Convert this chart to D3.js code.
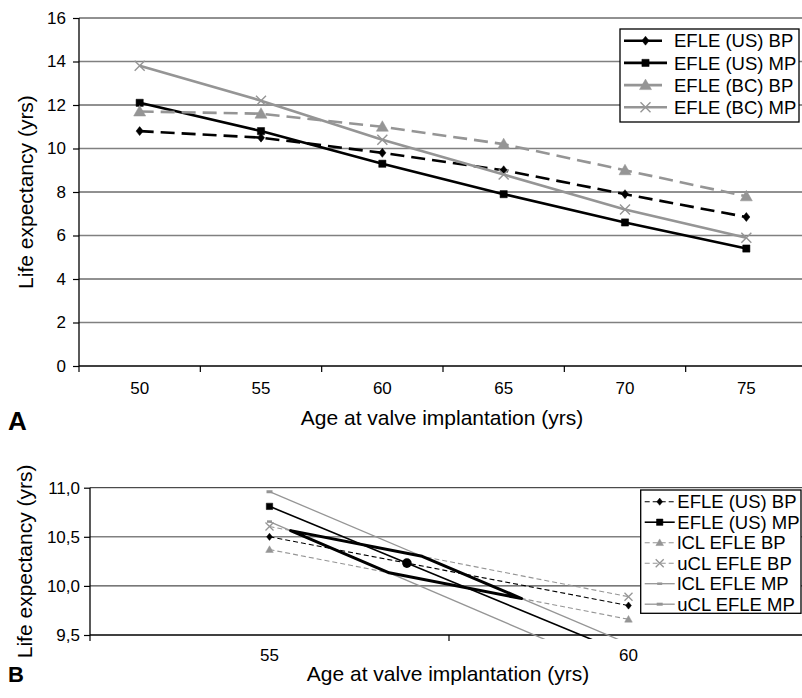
<!DOCTYPE html>
<html>
<head>
<meta charset="utf-8">
<script src="https://cdn.jsdelivr.net/npm/d3@7"></script>
<style>
  body { margin: 0; background: #fff; }
  svg { display: block; font-family: "Liberation Sans", Arial, sans-serif; }
</style>
</head>
<body>
<svg id="chart" width="802" height="698"></svg>
<script>
// panel A data
const agesA = [50, 55, 60, 65, 70, 75]
const usBP_A = [10.8, 10.5, 9.8, 9.0, 7.9, 6.85]
const usMP_A = [12.1, 10.8, 9.3, 7.9, 6.6, 5.4]
const bcBP_A = [11.7, 11.6, 11.0, 10.2, 9.0, 7.8]
const bcMP_A = [13.8, 12.2, 10.4, 8.8, 7.2, 5.9]
const yTicksA = [0, 2, 4, 6, 8, 10, 12, 14, 16]

// panel B data
const agesB = [55, 60]
const usBP_B = [10.50, 9.80]
const usMP_B = [10.81, 9.30]
const lclBP_B = [10.37, 9.66]
const uclBP_B = [10.605, 9.89]
const lclMP_B = [10.655, 9.09]
const uclMP_B = [10.96, 9.41]
const yTicksB = [9.5, 10.0, 10.5, 11.0]

const GRAY = '#959595'
const svg = d3.select('#chart')

// marker shapes (local coords)
const markerPath = {
    diamond: s => `M0,${-s}L${s * 0.8},0L0,${s}L${-s * 0.8},0Z`,
    square: s => `M${-s},${-s}H${s}V${s}H${-s}Z`,
    triangle: s => `M0,${-s}L${s},${s * 0.75}L${-s},${s * 0.75}Z`,
    times: s => `M${-s},${-s}L${s},${s}M${-s},${s}L${s},${-s}`,
    dash: s => `M${-s},0L${s},0`
}

function drawMarker(g, m, x, y) {
    const filled = m.shape !== 'times' && m.shape !== 'dash'
    g.append('path')
        .attr('d', markerPath[m.shape](m.size))
        .attr('transform', `translate(${x},${y})`)
        .attr('fill', filled ? m.color : 'none')
        .attr('stroke', m.color)
        .attr('stroke-width', filled ? 0.5 : m.mw)
}

function drawPanel(p) {
    const g = svg.append('g')
    const x = d3.scaleBand().domain(p.ages).range([p.left, p.right])
    const xc = d => x(d) + x.bandwidth() / 2
    const y = d3.scaleLinear().domain(p.yDomain).range([p.bottom, p.top])

    // gridlines
    g.selectAll('.grid')
        .data(p.yTicks.slice(1))
        .enter()
        .append('line')
        .attr('x1', p.left)
        .attr('x2', p.right)
        .attr('y1', d => y(d))
        .attr('y2', d => y(d))
        .attr('stroke', (d, i) => (p.yTicks.length - 1 - i) % 2 ? '#222' : '#808080')
        .attr('stroke-width', (d, i) => (p.yTicks.length - 1 - i) % 2 ? 1 : 1.6)

    // y axis
    const yAxis = g.append('g')
        .attr('transform', `translate(${p.left},0)`)
        .call(d3.axisLeft(y).tickValues(p.yTicks).tickSize(6).tickPadding(p.yPad).tickFormat(p.yFormat))
    yAxis.select('.domain').attr('d', `M0,${p.top}V${p.bottom}`).attr('stroke', '#000').attr('stroke-width', 1.3)
    yAxis.selectAll('.tick line').attr('stroke', '#000').attr('stroke-width', 1.2)
    yAxis.selectAll('text').attr('font-size', 17).attr('fill', '#000').style('font-family', 'inherit')

    // x axis: labels at band centres, tick marks at band edges
    const xAxis = g.append('g')
        .attr('transform', `translate(0,${p.bottom})`)
        .call(d3.axisBottom(x).tickSize(0).tickPadding(p.xPad))
    xAxis.select('.domain').attr('d', `M${p.left},0H${p.right}`).attr('stroke', '#000').attr('stroke-width', 1.5)
    xAxis.selectAll('text').attr('font-size', 17).attr('fill', '#000').style('font-family', 'inherit')
    xAxis.selectAll('.edge')
        .data(p.ages.map(d => x(d)).concat([p.right]))
        .enter()
        .append('line')
        .attr('x1', d => d)
        .attr('x2', d => d)
        .attr('y1', 0)
        .attr('y2', 6)
        .attr('stroke', '#000')
        .attr('stroke-width', 1.2)

    // titles
    g.append('text')
        .attr('x', (p.left + p.right) / 2 - 1)
        .attr('y', p.xTitleY)
        .attr('text-anchor', 'middle')
        .attr('font-size', 21)
        .text('Age at valve implantation (yrs)')
    g.append('text')
        .attr('transform', `translate(${p.yTitleX},${(p.top + p.bottom) / 2}) rotate(-90)`)
        .attr('text-anchor', 'middle')
        .attr('font-size', 21)
        .text('Life expectancy (yrs)')
    g.append('text')
        .attr('x', 8)
        .attr('y', p.letterY)
        .attr('font-size', p.letterSize)
        .attr('font-weight', 'bold')
        .text(p.letter)

    // series
    const plot = g.append('g')
    if (p.clip) {
        svg.append('clipPath').attr('id', p.clip)
            .append('rect')
            .attr('x', p.left).attr('y', p.top - 10)
            .attr('width', p.right - p.left).attr('height', p.bottom - p.top + 14)
        plot.attr('clip-path', `url(#${p.clip})`)
    }
    const line = d3.line().x((d, i) => xc(p.ages[i])).y(d => y(d))
    p.series.forEach(s => {
        plot.append('path')
            .attr('d', line(s.values))
            .attr('fill', 'none')
            .attr('stroke', s.color)
            .attr('stroke-width', s.width)
            .attr('stroke-dasharray', s.dash || null)
        s.values.forEach((v, i) => drawMarker(plot, s, xc(p.ages[i]), y(v)))
    })

    if (p.extra) p.extra(plot, x, y)

    // legend
    const lg = g.append('g')
    lg.append('rect')
        .attr('x', p.legend.x)
        .attr('y', p.legend.y)
        .attr('width', p.legend.w)
        .attr('height', p.legend.h)
        .attr('fill', '#fff')
        .attr('stroke', '#000')
        .attr('stroke-width', 1.3)
    p.series.forEach((s, i) => {
        const cy = p.legend.y + p.legend.first + i * p.legend.step
        lg.append('line')
            .attr('x1', p.legend.x + 4)
            .attr('x2', p.legend.x + 4 + p.legend.sym)
            .attr('y1', cy)
            .attr('y2', cy)
            .attr('stroke', s.color)
            .attr('stroke-width', s.width)
            .attr('stroke-dasharray', s.legendDash || s.dash || null)
        drawMarker(lg, s, p.legend.x + 4 + p.legend.sym / 2, cy)
        lg.append('text')
            .attr('x', p.legend.x + p.legend.textX)
            .attr('y', cy)
            .attr('dy', '0.36em')
            .attr('font-size', 18.5)
            .text(s.name)
    })
}

drawPanel({
    ages: agesA,
    left: 79, right: 807, top: 18, bottom: 366,
    yDomain: [0, 16], yTicks: yTicksA, yFormat: d3.format('d'), yPad: 7, xPad: 16,
    xTitleY: 425, yTitleX: 33, letter: 'A', letterY: 430, letterSize: 26,
    series: [
        { name: 'EFLE (US) BP', values: usBP_A, color: '#000', width: 2.6, dash: '14,7', legendDash: '20,4,14', shape: 'diamond', size: 4.5 },
        { name: 'EFLE (US) MP', values: usMP_A, color: '#000', width: 2.6, shape: 'square', size: 3.6 },
        { name: 'EFLE (BC) BP', values: bcBP_A, color: GRAY, width: 2.6, dash: '14,7', legendDash: '20,4,14', shape: 'triangle', size: 6 },
        { name: 'EFLE (BC) MP', values: bcMP_A, color: GRAY, width: 2.6, shape: 'times', size: 5, mw: 1.4 }
    ],
    legend: { x: 620, y: 29, w: 179, h: 93, first: 11.7, step: 22.2, sym: 43, textX: 54 }
})

// intersection of two straight series between 55 and 60
function meet(a, b) {
    const da = a[1] - a[0]
    const db = b[1] - b[0]
    const u = (b[0] - a[0]) / (da - db)
    return [agesB[0] + (agesB[1] - agesB[0]) * u, a[0] + da * u]
}

drawPanel({
    ages: agesB,
    left: 90, right: 808, top: 487.7, bottom: 635,
    yDomain: [9.5, 11], yTicks: yTicksB, yFormat: d => d3.format('.1f')(d).replace('.', ','), yPad: 4, xPad: 14,
    xTitleY: 681, yTitleX: 31.5, letter: 'B', letterY: 682, letterSize: 22,
    clip: 'clipB',
    series: [
        { name: 'EFLE (US) BP', values: usBP_B, color: '#000', width: 1.1, dash: '5,3', shape: 'diamond', size: 3.6 },
        { name: 'EFLE (US) MP', values: usMP_B, color: '#000', width: 1.6, shape: 'square', size: 3.2 },
        { name: 'lCL EFLE BP', values: lclBP_B, color: GRAY, width: 1.1, dash: '5,3', shape: 'triangle', size: 3.8 },
        { name: 'uCL EFLE BP', values: uclBP_B, color: GRAY, width: 1.1, dash: '5,3', shape: 'times', size: 4, mw: 1.3 },
        { name: 'lCL EFLE MP', values: lclMP_B, color: GRAY, width: 1.3, shape: 'dash', size: 2.5, mw: 2.5 },
        { name: 'uCL EFLE MP', values: uclMP_B, color: GRAY, width: 1.3, shape: 'dash', size: 3, mw: 3 }
    ],
    legend: { x: 640.7, y: 490, w: 160.3, h: 123.3, first: 11.7, step: 20.5, sym: 30, textX: 36.6 },
    extra: (plot, x, y) => {
        const xl = d3.scaleLinear().domain(agesB).range(agesB.map(d => x(d) + x.bandwidth() / 2))
        const quad = [
            meet(lclMP_B, uclBP_B),
            meet(uclMP_B, uclBP_B),
            meet(uclMP_B, lclBP_B),
            meet(lclMP_B, lclBP_B)
        ]
        plot.append('path')
            .attr('d', d3.line().x(d => xl(d[0])).y(d => y(d[1])).curve(d3.curveLinearClosed)(quad))
            .attr('fill', 'none')
            .attr('stroke', '#000')
            .attr('stroke-width', 3)
            .attr('stroke-linejoin', 'round')
        const dot = meet(usBP_B, usMP_B)
        plot.append('circle')
            .attr('cx', xl(dot[0]))
            .attr('cy', y(dot[1]))
            .attr('r', 4.8)
            .attr('fill', '#000')
    }
})
</script>
</body>
</html>
